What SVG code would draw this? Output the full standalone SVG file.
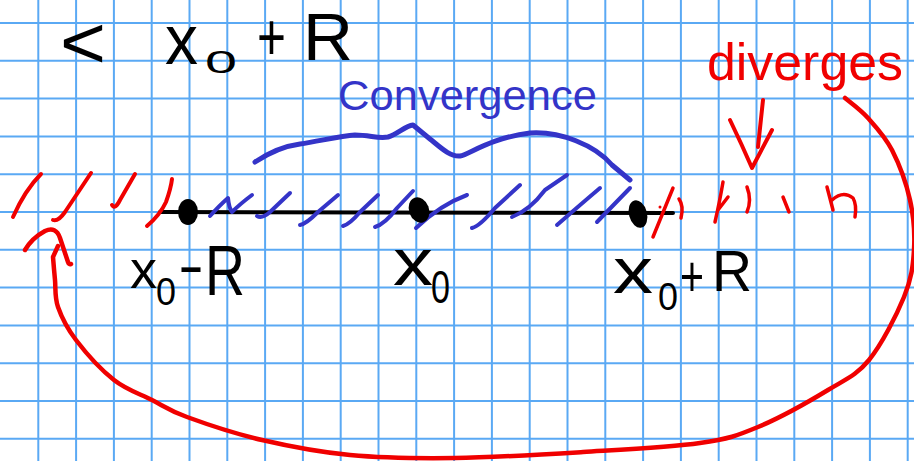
<svg xmlns="http://www.w3.org/2000/svg" width="914" height="461" viewBox="0 0 914 461">
  <style>
    .grid line { stroke: #5aa9f4; stroke-width: 2; }
    .ink { fill: none; stroke-linecap: round; stroke-linejoin: round; }
    .blk { stroke: #000; }
    .blu { stroke: #3434c8; }
    .red { stroke: #f00000; }
    text { font-family: "Liberation Sans", Arial, sans-serif; }
    .tb { fill: #000; }
    .tblu { fill: #3434c8; }
    .tred { fill: #f00000; }
  </style>
  <rect width="914" height="461" fill="#ffffff"/>
  <g id="grid" class="grid">
    <line x1="38.3" y1="0" x2="38.3" y2="461"/>
    <line x1="76.1" y1="0" x2="76.1" y2="461"/>
    <line x1="113.9" y1="0" x2="113.9" y2="461"/>
    <line x1="151.7" y1="0" x2="151.7" y2="461"/>
    <line x1="189.5" y1="0" x2="189.5" y2="461"/>
    <line x1="227.3" y1="0" x2="227.3" y2="461"/>
    <line x1="265.1" y1="0" x2="265.1" y2="461"/>
    <line x1="302.9" y1="0" x2="302.9" y2="461"/>
    <line x1="340.7" y1="0" x2="340.7" y2="461"/>
    <line x1="378.5" y1="0" x2="378.5" y2="461"/>
    <line x1="416.3" y1="0" x2="416.3" y2="461"/>
    <line x1="454.1" y1="0" x2="454.1" y2="461"/>
    <line x1="491.9" y1="0" x2="491.9" y2="461"/>
    <line x1="529.7" y1="0" x2="529.7" y2="461"/>
    <line x1="567.5" y1="0" x2="567.5" y2="461"/>
    <line x1="605.3" y1="0" x2="605.3" y2="461"/>
    <line x1="643.1" y1="0" x2="643.1" y2="461"/>
    <line x1="680.9" y1="0" x2="680.9" y2="461"/>
    <line x1="718.7" y1="0" x2="718.7" y2="461"/>
    <line x1="756.5" y1="0" x2="756.5" y2="461"/>
    <line x1="794.3" y1="0" x2="794.3" y2="461"/>
    <line x1="832.1" y1="0" x2="832.1" y2="461"/>
    <line x1="869.9" y1="0" x2="869.9" y2="461"/>
    <line x1="907.7" y1="0" x2="907.7" y2="461"/>
    <line x1="0" y1="23" x2="914" y2="23"/>
    <line x1="0" y1="60.8" x2="914" y2="60.8"/>
    <line x1="0" y1="98.6" x2="914" y2="98.6"/>
    <line x1="0" y1="136.4" x2="914" y2="136.4"/>
    <line x1="0" y1="174.2" x2="914" y2="174.2"/>
    <line x1="0" y1="212" x2="914" y2="212"/>
    <line x1="0" y1="249.8" x2="914" y2="249.8"/>
    <line x1="0" y1="287.6" x2="914" y2="287.6"/>
    <line x1="0" y1="325.4" x2="914" y2="325.4"/>
    <line x1="0" y1="363.2" x2="914" y2="363.2"/>
    <line x1="0" y1="401" x2="914" y2="401"/>
    <line x1="0" y1="438.8" x2="914" y2="438.8"/>
  </g>

  <g id="title">
    <text class="tb" x="60" y="68" font-size="75" textLength="46" lengthAdjust="spacingAndGlyphs">&lt;</text>
    <text class="tb" x="165" y="64" font-size="70" textLength="33" lengthAdjust="spacingAndGlyphs">x</text>
    <text class="tb" x="205" y="73" font-size="31" textLength="32" lengthAdjust="spacingAndGlyphs">0</text>
    <text class="tb" x="257" y="60" font-size="66" textLength="29" lengthAdjust="spacingAndGlyphs">+</text>
    <text class="tb" x="303" y="60" font-size="66" textLength="50" lengthAdjust="spacingAndGlyphs">R</text>
  </g>

  <g id="convergence">
    <text class="tblu" x="338" y="110" font-size="42" textLength="259" lengthAdjust="spacingAndGlyphs">Convergence</text>
    <path class="ink blu" stroke-width="5" d="M255,162 C270,152 285,146 300,144 C320,141 340,136 355,135 C370,135 378,139 388,137 C398,134 405,126 413,125 L430,139 C440,147 450,157 460,156 C470,154 490,138 530,133 C560,131 595,145 612,165 L630,180"/>
  </g>

  <g id="diverges">
    <text class="tred" x="707" y="80" font-size="52" textLength="196" lengthAdjust="spacingAndGlyphs">diverges</text>
    <path class="ink red" stroke-width="4" d="M763,100 L758,147 M730,120 Q742,145 752,168 L772,130"/>
  </g>

  <g id="axis">
    <path class="ink blk" stroke-width="4" d="M160,212 L673,213"/>
  </g>

  <g id="hatch-convergence" class="ink blu" stroke-width="4">
    <path d="M210,216 Q220,205 228,198 Q229,208 232,212 Q240,204 252,195"/>
    <path d="M257,216 Q262,219 270,212 L290,193"/>
    <path d="M300,225 Q306,224 318,212 L338,195"/>
    <path d="M343,226 Q350,224 360,212 L378,195"/>
    <path d="M375,227 Q385,224 397,208 L413,191"/>
    <path d="M416,228 Q440,205 467,195"/>
    <path d="M472,228 Q480,226 495,208 L520,185"/>
    <path d="M512,217 Q530,210 545,190 L567,175"/>
    <path d="M557,225 Q580,205 600,188"/>
    <path d="M597,222 L630,188"/>
  </g>

  <g id="hatch-diverge-left" class="ink red" stroke-width="4">
    <path d="M13,217 Q25,190 41,174"/>
    <path d="M53,220 Q58,222 65,212 L91,173"/>
    <path d="M112,205 Q115,210 120,200 L135,174"/>
    <path d="M147,226 Q160,215 166,202 Q171,188 172,179"/>
  </g>

  <g id="hatch-diverge-right" class="ink red" stroke-width="3.5">
    <path d="M653,237 L673,188"/>
    <circle cx="660" cy="207" r="1.5" fill="#f00000" stroke="none"/>
    <path d="M679,199 Q684,206 681,218"/>
    <path d="M715,222 Q720,200 723,182 M718,210 L728,197"/>
    <path d="M747,187 Q752,200 747,212"/>
    <path d="M783,197 L789,212"/>
    <path d="M827,187 L833,210 M832,200 Q843,190 853,198 Q857,205 855,217"/>
  </g>

  <g id="points" fill="#000">
    <ellipse id="pt-left" cx="188" cy="212" rx="10" ry="13"/>
    <ellipse id="pt-center" cx="419" cy="210" rx="10" ry="13" transform="rotate(-20 419 210)"/>
    <ellipse id="pt-right" cx="638" cy="214" rx="9" ry="14" transform="rotate(-15 638 214)"/>
  </g>

  <g id="label-left">
    <text class="tb" x="130" y="288" font-size="54" textLength="27" lengthAdjust="spacingAndGlyphs">x</text>
    <text class="tb" x="156" y="305" font-size="38" textLength="20" lengthAdjust="spacingAndGlyphs">0</text>
    <text class="tb" x="178" y="285" font-size="60" textLength="26" lengthAdjust="spacingAndGlyphs">-</text>
    <text class="tb" x="205" y="295" font-size="70" textLength="40" lengthAdjust="spacingAndGlyphs">R</text>
  </g>
  <g id="label-center">
    <text class="tb" x="393" y="285" font-size="67" textLength="40" lengthAdjust="spacingAndGlyphs">x</text>
    <text class="tb" x="431" y="303" font-size="46" textLength="19" lengthAdjust="spacingAndGlyphs">0</text>
  </g>
  <g id="label-right">
    <text class="tb" x="613" y="293" font-size="64" textLength="40" lengthAdjust="spacingAndGlyphs">x</text>
    <text class="tb" x="658" y="310" font-size="39" textLength="20" lengthAdjust="spacingAndGlyphs">0</text>
    <text class="tb" x="680" y="296" font-size="58" textLength="24" lengthAdjust="spacingAndGlyphs">+</text>
    <text class="tb" x="712" y="291" font-size="58" textLength="40" lengthAdjust="spacingAndGlyphs">R</text>
  </g>

  <g id="connectors" class="ink red" stroke-width="4.5">
    <path d="M845,98 C848.8,101.3 860.2,109.3 868,118 C875.8,126.7 885,136.3 892,150 C899,163.7 906.3,183.3 910,200 C913.7,216.7 915,233.8 914,250 C913,266.2 911.5,278.7 904,297 C896.5,315.3 881.7,344.5 869,360 C856.3,375.5 846.5,378.8 828,390 C809.5,401.2 779.3,418.2 758,427 C736.7,435.8 729.2,438.8 700,443 C670.8,447.2 623.8,449.5 583,452 C542.2,454.5 493.8,457.5 455,458 C416.2,458.5 382.2,458 350,455 C317.8,452 289.2,446.3 262,440 C234.8,433.7 205.3,423.7 187,417 C168.7,410.3 164.2,406.2 152,400 C139.8,393.8 126.7,390 114,380 C101.3,370 85.3,352.2 76,340 C66.7,327.8 61.5,317 58,307 C54.5,297 55.8,288.3 55,280 C54.2,271.7 53.3,260.8 53,257 L58,246"/>
    <path d="M25,250 Q32,238 45,231 Q56,226 60,238 L68,262 Q69,265 71,264"/>
  </g>
</svg>
